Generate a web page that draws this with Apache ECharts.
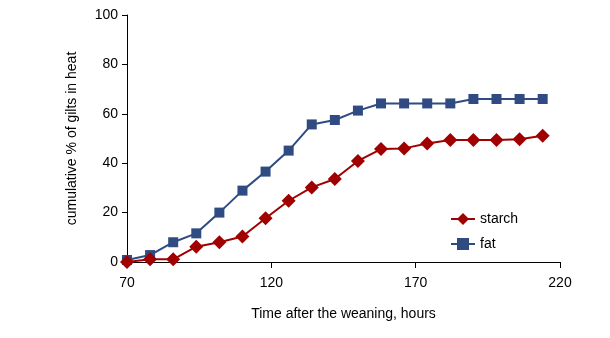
<!DOCTYPE html>
<html>
<head>
<meta charset="utf-8">
<script src="https://cdn.jsdelivr.net/npm/echarts@6/dist/echarts.min.js"></script>
<style>html,body{margin:0;padding:0;background:#fff}#c{width:610px;height:338px}</style>
</head>
<body>
<div id="c"></div>
<script>
var hours = [70, 78, 86, 94, 102, 110, 118, 126, 134, 142, 150, 158, 166, 174, 182, 190, 198, 206, 214];
var starch = [0, 1.1, 1.1, 6.2, 8, 10.3, 17.7, 24.8, 30.2, 33.6, 40.9, 45.7, 46, 48, 49.4, 49.4, 49.4, 49.7, 51.1];
var fat = [0.8, 2.8, 8, 11.6, 20, 28.9, 36.6, 45.1, 55.7, 57.5, 61.3, 64.2, 64.2, 64.2, 64.2, 66, 66, 66, 66];
var xTicks = [70, 120, 170, 220];
var yTicks = [0, 20, 40, 60, 80, 100];

function pairs(vals) { return hours.map(function (h, i) { return [h, vals[i]]; }); }

var font = 'Liberation Sans, Arial, sans-serif';
var chart = echarts.init(document.getElementById('c'), null, {renderer: 'canvas'});
chart.setOption({
  animation: false,
  backgroundColor: '#fff',
  grid: {left: 127, right: 50, top: 15, bottom: 76, containLabel: false},
  xAxis: {
    type: 'value', min: xTicks[0], max: xTicks[xTicks.length - 1], interval: 50,
    name: 'Time after the weaning, hours', nameLocation: 'middle', nameGap: 45,
    nameTextStyle: {fontFamily: font, fontSize: 14, color: '#000'},
    axisLine: {show: true, onZero: false, lineStyle: {color: '#000', width: 1}},
    axisTick: {show: true, length: 6, lineStyle: {color: '#000'}},
    axisLabel: {fontFamily: font, fontSize: 14, color: '#000', margin: 14},
    splitLine: {show: false}
  },
  yAxis: {
    type: 'value', min: yTicks[0], max: yTicks[yTicks.length - 1], interval: 20,
    name: 'cumulative % of gilts in heat', nameLocation: 'middle', nameGap: 48, nameRotate: 90,
    nameTextStyle: {fontFamily: font, fontSize: 14, color: '#000'},
    axisLine: {show: true, lineStyle: {color: '#000', width: 1}},
    axisTick: {show: true, length: 5, lineStyle: {color: '#000'}},
    axisLabel: {fontFamily: font, fontSize: 14, color: '#000', margin: 9},
    splitLine: {show: false}
  },
  legend: {
    orient: 'vertical', left: 445, top: 207, itemGap: 11, itemWidth: 24, itemHeight: 15,
    textStyle: {fontFamily: font, fontSize: 14, color: '#000'},
    data: ['starch', 'fat']
  },
  series: [
    {name: 'fat', type: 'line', data: pairs(fat), symbol: 'rect', symbolSize: 10,
     lineStyle: {color: '#2F4B82', width: 2}, itemStyle: {color: '#2F4B82'}, z: 2},
    {name: 'starch', type: 'line', data: pairs(starch), symbol: 'diamond', symbolSize: 14,
     lineStyle: {color: '#A00000', width: 2}, itemStyle: {color: '#A00000'}, z: 3}
  ]
});
</script>
</body>
</html>
